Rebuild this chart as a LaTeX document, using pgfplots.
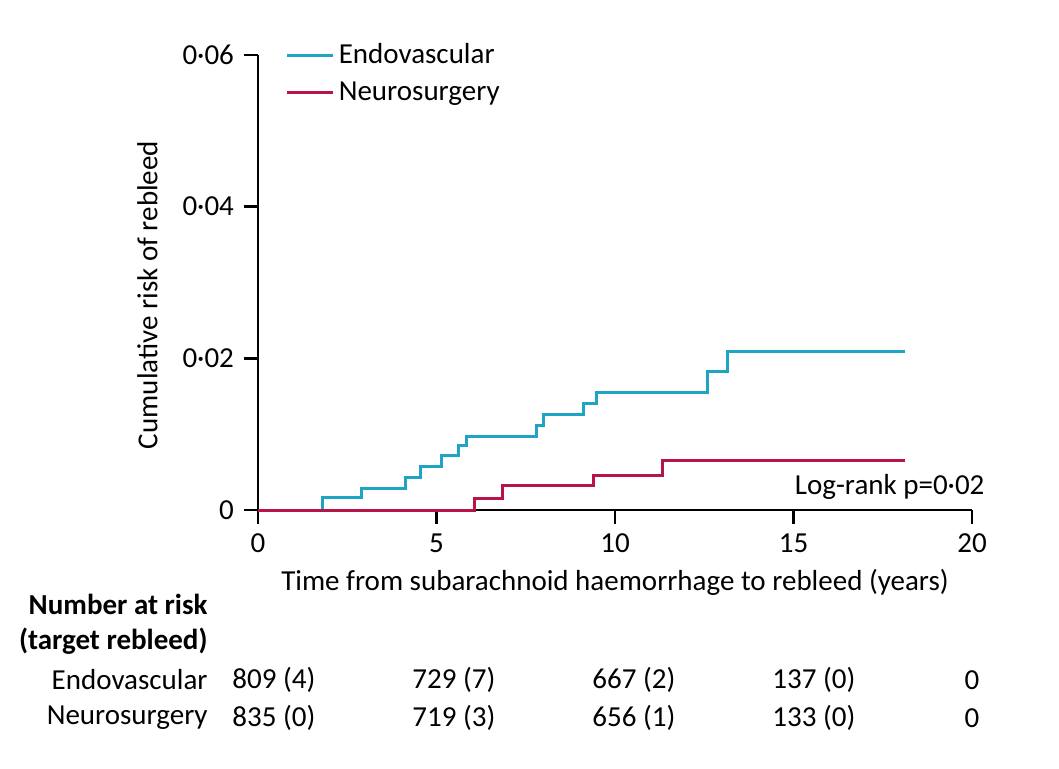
\documentclass[border=0pt]{standalone}
\usepackage{fontspec}
\setmainfont{Carlito}
\usepackage{pgfplots}
\pgfplotsset{compat=1.18}
\definecolor{endo}{RGB}{32,164,198}
\definecolor{neuro}{RGB}{183,20,72}
\begin{document}
\fontsize{14.5}{17}\selectfont
\begin{tikzpicture}
\useasboundingbox (0,0) rectangle (529.5pt,-384pt);
\begin{axis}[
    at={(129pt,-255pt)}, anchor=south west,
    scale only axis, width=357pt, height=227.5pt,
    xmin=0, xmax=20, ymin=0, ymax=0.06,
    enlargelimits=false,
    scaled y ticks=false,
    axis lines=left,
    axis line style={-, line width=1.2pt},
    tick align=outside,
    major tick length=7pt,
    tick style={line width=1.2pt, black},
    xtick={0,5,10,15,20}, xticklabels={0,5,10,15,20},
    ytick={0,0.02,0.04,0.06}, yticklabels={0,0·02,0·04,0·06},
    xlabel={Time from subarachnoid haemorrhage to rebleed (years)},
    ylabel={Cumulative risk of rebleed},
    xlabel style={at={(axis description cs:0.5,-0.16)}, anchor=center},
    ylabel style={at={(axis description cs:-0.155,0.4725)}, anchor=center},
    clip=false,
    legend style={draw=none, fill=none, at={(axis description cs:0.03,1.045)},
        anchor=north west, row sep=3pt},
    legend cell align=left,
    legend image code/.code={\draw[#1] (0pt,0pt) -- (23pt,0pt);},
]
% Endovascular
\addplot[const plot, endo, line width=1.5pt] coordinates {
    (0,0) (1.81,0.00162) (2.90,0.00286) (4.12,0.00426) (4.56,0.00571)
    (5.13,0.00725) (5.63,0.00848) (5.83,0.00967) (7.79,0.0111)
    (7.99,0.01266) (9.11,0.01407) (9.47,0.01552) (12.59,0.01824)
    (13.16,0.02088) (18.12,0.02088)
};
% Neurosurgery
\addplot[const plot, neuro, line width=1.5pt] coordinates {
    (0,0) (6.06,0.00154) (6.85,0.00326) (9.39,0.00452) (11.34,0.0065)
    (18.12,0.0065)
};
\legend{Endovascular, Neurosurgery}
\node[anchor=east, inner sep=0pt] at (axis cs:20.36,0.003) {Log-rank p=0·02};
\end{axis}
\begin{scope}[x=0.5pt, y=-0.5pt, every node/.style={inner sep=0pt}]
\node[anchor=east, font=\bfseries] at (208,604) {Number at risk};
\node[anchor=east, font=\bfseries] at (208,641) {(target rebleed)};
\node[anchor=east] at (208,680) {Endovascular};
\node[anchor=east] at (208,718) {Neurosurgery};
\node[anchor=west] at (232,680) {809 (4)};
\node[anchor=west] at (412,680) {729 (7)};
\node[anchor=west] at (592,680) {667 (2)};
\node[anchor=west] at (772,680) {137 (0)};
\node at (972,680) {0};
\node[anchor=west] at (232,718) {835 (0)};
\node[anchor=west] at (412,718) {719 (3)};
\node[anchor=west] at (592,718) {656 (1)};
\node[anchor=west] at (772,718) {133 (0)};
\node at (972,718) {0};
\end{scope}
\end{tikzpicture}
\end{document}
